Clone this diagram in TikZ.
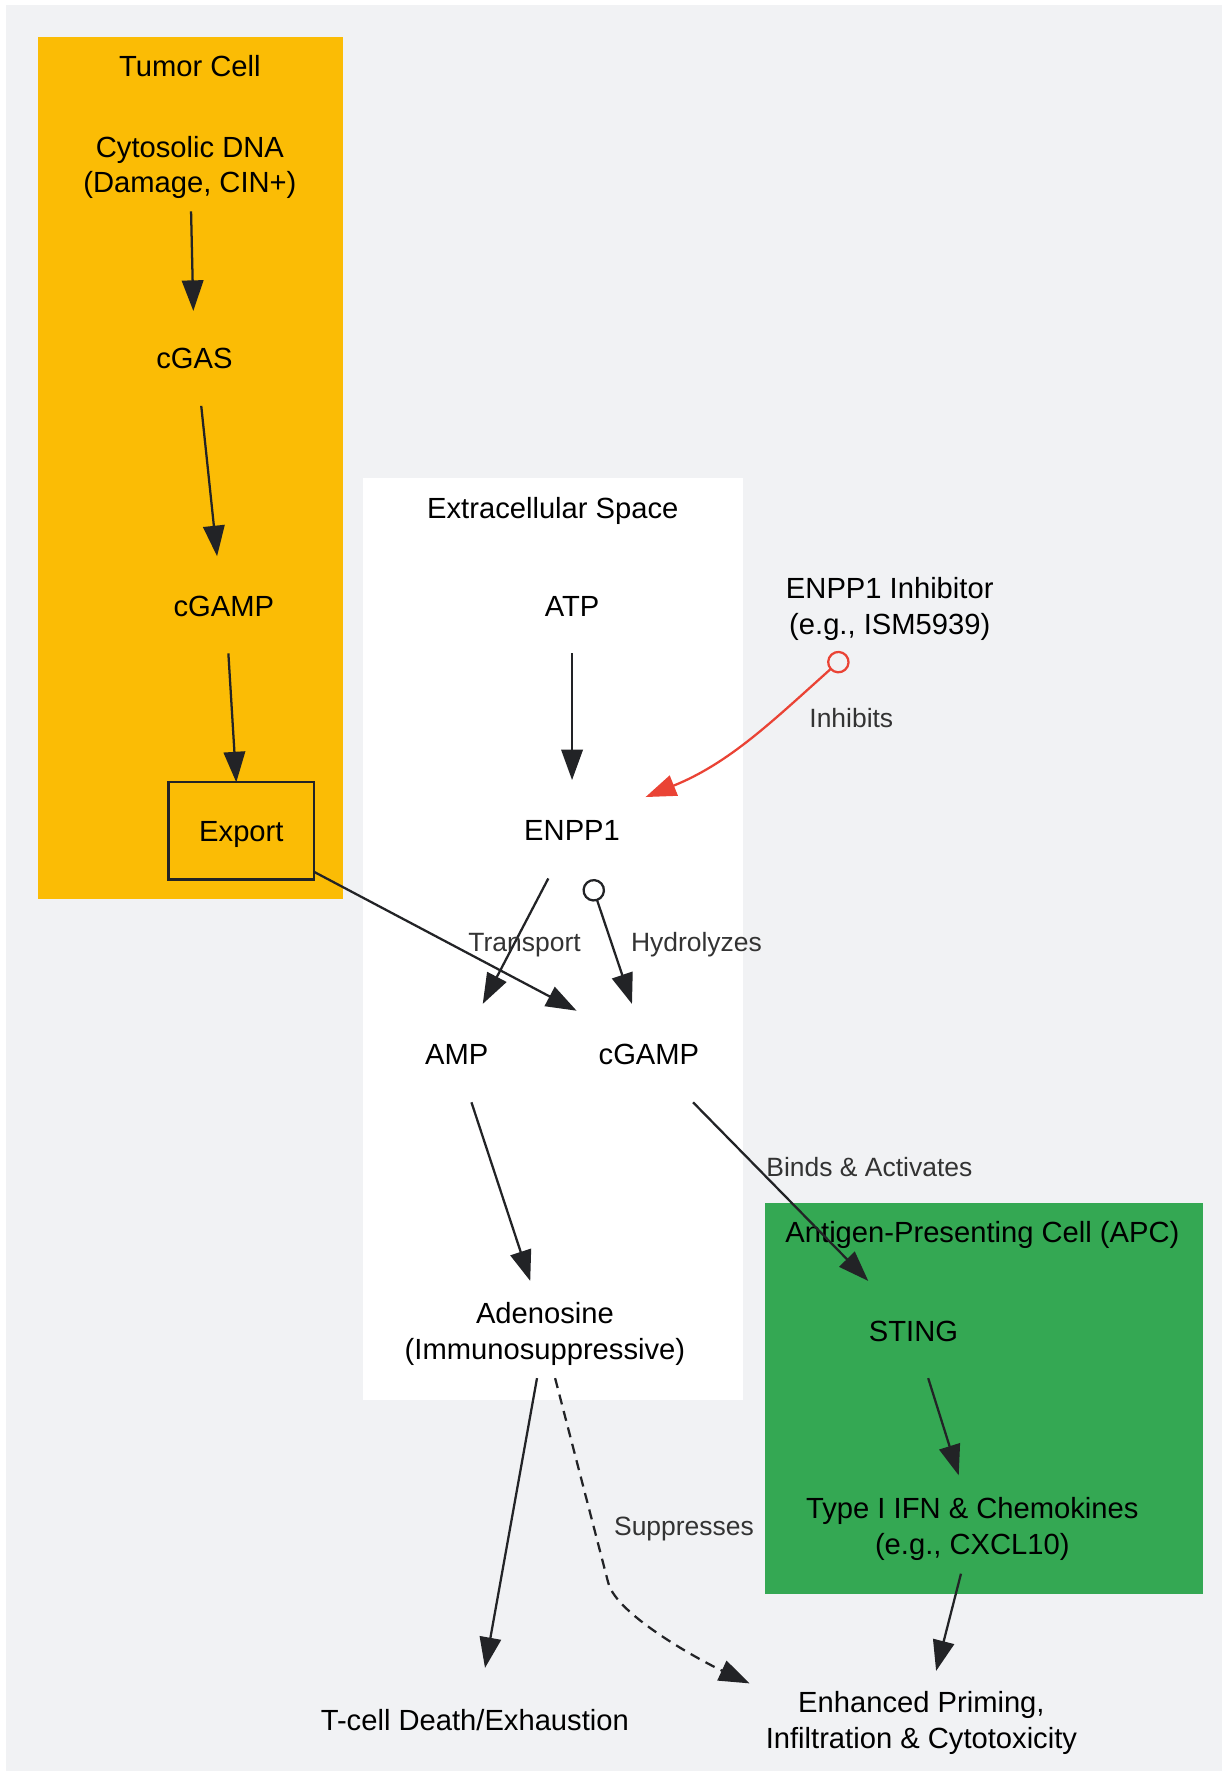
\documentclass[tikz,border=0pt]{standalone}
\usepackage{fontspec}
\setmainfont{Liberation Sans}
\usetikzlibrary{arrows.meta}

\definecolor{bggray}{HTML}{F1F2F4}
\definecolor{tumoryellow}{HTML}{FBBC05}
\definecolor{apcgreen}{HTML}{34A853}
\definecolor{inhred}{HTML}{EA4335}
\definecolor{edgeblack}{HTML}{222326}
\definecolor{labelgray}{HTML}{333333}

\begin{document}
\begin{tikzpicture}[x=0.5pt,y=-0.5pt,
  txt/.style={font=\fontsize{12.9}{15.8}\selectfont,inner sep=0pt,text=black},
  one/.style={txt,text height=9.3pt,text depth=0pt},
  two/.style={txt,align=center},
  lbl/.style={font=\fontsize{11.7}{14}\selectfont,text=labelgray,inner sep=0pt,text height=8.4pt,text depth=0pt},
  flow/.style={draw=edgeblack,line width=1pt,-{Triangle[length=13.5pt,width=9.5pt]}},
  hydro/.style={draw=edgeblack,line width=1pt,{Circle[open,length=10pt]}-{Triangle[length=13.5pt,width=9.5pt]}},
  inhibit/.style={draw=inhred,line width=1pt,{Circle[open,length=10pt]}-{Triangle[length=13.5pt,width=9.5pt]}}
]

	\useasboundingbox (0,0) rectangle (1080.9,1566.5);
	\fill[white] (0,0) rectangle (1080.9,1566.5);
	\fill[bggray] (5,4.5) rectangle (1080.9,1566.5);
	
	% clusters
	\fill[tumoryellow] (34,33) rectangle (303,795);
	\fill[white] (321,423) rectangle (657,1238);
	\fill[apcgreen] (677,1064) rectangle (1064,1410);
	
	\node[one] (tumor) at (168,58) {Tumor Cell};
	\node[one] (space) at (489,449) {Extracellular Space};
	\node[one] (apc) at (869,1090) {Antigen-Presenting Cell (APC)};
	
	% tumor cell
	\node[two] (dna) at (168,148.2) {Cytosolic DNA\\(Damage, CIN+)};
	\node[one] (cgas) at (172,317) {cGAS};
	\node[one] (cg1) at (198,536) {cGAMP};
	\node[one,draw=edgeblack,line width=1pt,minimum width=64.5pt,minimum height=43pt] (exp) at (213.5,735) {Export};
	
	% extracellular space
	\node[one] (atp) at (506,536) {ATP};
	\node[one] (enpp) at (506,734) {ENPP1};
	\node[one] (amp) at (404,932) {AMP};
	\node[one] (cg2) at (574,932) {cGAMP};
	\node[two] (aden) at (482,1179.7) {Adenosine\\(Immunosuppressive)};
	
	\node[two] (inh) at (787,538.7) {ENPP1 Inhibitor\\(e.g., ISM5939)};
	
	% APC
	\node[one] (sting) at (808,1177) {STING};
	\node[two] (ifn) at (860,1352.2) {Type I IFN \& Chemokines\\(e.g., CXCL10)};
	
	\node[one] (tcell) at (420,1521) {T-cell Death/Exhaustion};
	\node[two] (enh) at (815,1523.7) {Enhanced Priming,\\Infiltration \& Cytotoxicity};
	
	% edges
	\draw[flow] ([shift={(1,38.8)}]dna.center) -- ([shift={(-1,-42)}]cgas.center);
	\draw[flow] ([shift={(6,42)}]cgas.center) -- ([shift={(-6,-44)}]cg1.center);
	\draw[flow] ([shift={(4,42)}]cg1.center) -- ([shift={(-4.5,-43)}]exp.center);
	\draw[flow] ([shift={(0,42)}]atp.center) -- ([shift={(0,-44)}]enpp.center);
	\draw[inhibit] ([shift={(-38,40.3)}]inh.center) .. controls (682,639) and (645,675) .. ([shift={(65,-29)}]enpp.center);
	\draw[flow] ([shift={(-21,43)}]enpp.center) -- ([shift={(23,-44)}]amp.center);
	\draw[hydro] ([shift={(16,44)}]enpp.center) -- ([shift={(-15,-44)}]cg2.center);
	\draw[flow] ([shift={(64,36)}]exp.center) -- ([shift={(-64,-38)}]cg2.center);
	\draw[flow] ([shift={(13,43)}]amp.center) -- ([shift={(-13,-46.7)}]aden.center);
	\draw[flow] ([shift={(39,43)}]cg2.center) -- ([shift={(-40,-44)}]sting.center);
	\draw[flow] ([shift={(13,42)}]sting.center) -- ([shift={(-12,-47.2)}]ifn.center);
	\draw[flow] ([shift={(-10,39.8)}]ifn.center) -- ([shift={(13,-45.7)}]enh.center);
	\draw[flow] ([shift={(-7,39.3)}]aden.center) -- ([shift={(9,-45.7)}]tcell.center);
	\draw[flow,dash pattern=on 4.5pt off 3pt] ([shift={(9,39.3)}]aden.center) -- (538,1400) .. controls (545.5,1429) and (622,1470) .. ([shift={(-152,-34.7)}]enh.center);
	
	% edge labels
	\node[lbl] (linh) at (753,635) {Inhibits};
	\node[lbl] (ltrans) at (464,833) {Transport};
	\node[lbl] (lhydro) at (616,833) {Hydrolyzes};
	\node[lbl] (lbind) at (769,1032) {Binds \& Activates};
	\node[lbl] (lsupp) at (605,1350) {Suppresses};
	
\end{tikzpicture}
\end{document}
